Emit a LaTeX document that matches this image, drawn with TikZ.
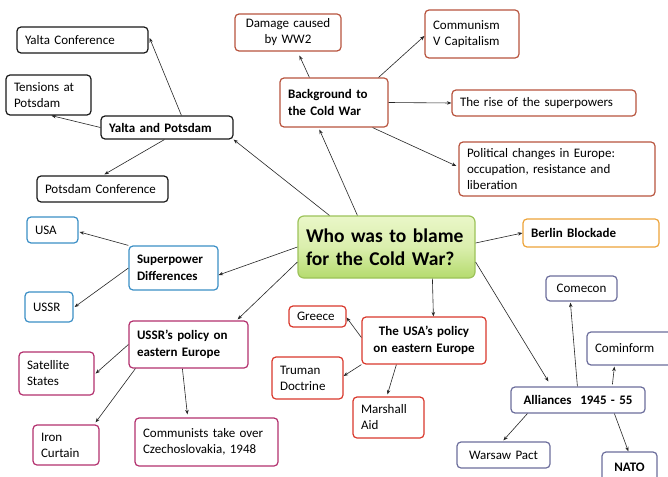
\documentclass[tikz,border=0pt]{standalone}
\usepackage{fontspec}
\setmainfont{Carlito}
\usetikzlibrary{arrows.meta}
\definecolor{cblack}{HTML}{1A1A1A}
\definecolor{cbrown}{HTML}{B8543E}
\definecolor{cblue}{HTML}{3B8FC6}
\definecolor{cmag}{HTML}{B3306E}
\definecolor{cred}{HTML}{D9382C}
\definecolor{corange}{HTML}{EDA43A}
\definecolor{cslate}{HTML}{6C6E9C}
\definecolor{cgreen}{HTML}{9DC35A}
\definecolor{gtop}{HTML}{EAF7C8}
\definecolor{gbot}{HTML}{B5DB6E}
\tikzset{
  box/.style={draw, rounded corners=4pt, line width=1.2pt, inner xsep=8pt, inner ysep=2pt,
    font=\fontsize{13}{16}\selectfont, align=left, text=black},
  bbox/.style={box, font=\fontsize{13}{16.5}\selectfont\bfseries},
  kblack/.style={draw=cblack},
  kbrown/.style={draw=cbrown},
  kblue/.style={draw=cblue},
  kmag/.style={draw=cmag},
  kred/.style={draw=cred},
  korange/.style={draw=corange},
  kslate/.style={draw=cslate},
  central/.style={box, draw=cgreen, top color=gtop, bottom color=gbot, middle color=gtop!70!gbot,
    font=\fontsize{19.5}{22.5}\selectfont\bfseries, rounded corners=6pt},
  conn/.style={-{Stealth[length=4.5pt,width=3.5pt]}, line width=0.6pt, draw=black!85}
}
\newcommand\mybox[7]{%
  \pgfmathsetmacro\bw{#4-#2}%
  \pgfmathsetmacro\bh{#5-#3}%
  \pgfmathsetmacro\tw{#4-#2-16}%
  \pgfmathsetmacro\cx{(#2+#4)/2}%
  \pgfmathsetmacro\cy{(#3+#5)/2}%
  \node[#6, minimum width=\bw pt, minimum height=\bh pt, text width=\tw pt] (#1) at (\cx,\cy) {#7};%
}
\begin{document}
\begin{tikzpicture}[x=1pt,y=-1pt]
\useasboundingbox[fill=white] (0,0) rectangle (668,476);
% Yalta group
\mybox{YC}{17}{27}{148}{53}{box,kblack}{Yalta Conference}
\mybox{TP}{6}{75}{91}{115}{box,kblack}{Tensions at\\Potsdam}
\mybox{YP}{101}{116}{233}{139}{bbox,kblack}{Yalta and Potsdam}
\mybox{PD}{37}{176}{168}{202}{box,kblack}{Potsdam Conference}
% Background group
\mybox{DM}{235}{14}{341}{51}{box,kbrown,align=center}{Damage caused\\by WW2}
\mybox{CM}{425}{10}{519}{58}{box,kbrown}{Communism\\V Capitalism}
\mybox{BG}{280}{78}{388}{127}{bbox,kbrown}{Background to\\the Cold War}
\mybox{RS}{452}{90}{636}{116}{box,kbrown}{The rise of the superpowers}
\mybox{PC}{459}{142}{655}{196}{box,kbrown}{Political changes in Europe:\\occupation, resistance and\\liberation}
% central
\mybox{CT0}{298}{216}{475}{278}{central}{Who was to blame\\for the Cold War?}
\mybox{BB}{523}{219}{659}{247}{bbox,korange}{Berlin Blockade}
% superpower
\mybox{USA}{27}{217}{78}{243}{box,kblue}{USA}
\mybox{SD}{129}{246}{218}{290}{bbox,kblue}{Superpower\\Differences}
\mybox{USSR}{25}{292}{73}{322}{box,kblue}{USSR}
% USSR policy
\mybox{UP}{129}{321}{248}{368}{bbox,kmag}{USSR’s policy on\\eastern Europe}
\mybox{SS}{19}{352}{94}{395}{box,kmag}{Satellite\\States}
\mybox{IC}{33}{425}{99}{465}{box,kmag}{Iron\\Curtain}
\mybox{CZ}{135}{418}{278}{466}{box,kmag}{Communists take over\\Czechoslovakia, 1948}
% USA policy
\mybox{GR}{289}{306}{346}{327}{box,kred}{Greece}
\mybox{UA}{362}{317}{486}{364}{bbox,kred,align=center}{The USA’s policy\\on eastern Europe}
\mybox{TD}{272}{357}{343}{399}{box,kred}{Truman\\Doctrine}
\mybox{MA}{353}{397}{424}{438}{box,kred}{Marshall\\Aid}
% alliances
\mybox{CC}{546}{276}{617}{301}{box,kslate,align=center}{Comecon}
\mybox{CF}{587}{332}{672}{365}{box,kslate}{Cominform}
\mybox{AL}{511}{387}{645}{413}{bbox,kslate,align=center}{Alliances \ 1945 - 55}
\mybox{WP}{457}{442}{550}{468}{box,kslate,align=center}{Warsaw Pact}
\mybox{NA}{602}{452}{657}{482}{bbox,kslate,align=center}{NATO}

% connectors from central
\draw[conn] ([xshift=32pt]CT0.north west) -- (YP.south east);
\draw[conn] ([xshift=60pt]CT0.north west) -- ([xshift=40pt,yshift=-2pt]BG.south west);
\draw[conn] (CT0.west) -- ([yshift=-7pt]SD.east);
\draw[conn] ([yshift=-15pt]CT0.west) -- ([xshift=-11pt,yshift=1pt]UP.north east);
\draw[conn] ([xshift=135pt]CT0.south west) -- ([xshift=72pt]UA.north west);
\draw[conn] ([yshift=4pt]CT0.east) -- (BB.west);
\draw[conn] ([yshift=-15pt]CT0.east) -- ([xshift=38pt,yshift=5pt]AL.north west);
% background
\draw[conn] ([xshift=30pt]BG.north west) -- ([xshift=65pt,yshift=-4pt]DM.south west);
\draw[conn] ([xshift=-10pt]BG.north east) -- ([yshift=-2pt]CM.west);
\draw[conn] (BG.east) -- (RS.west);
\draw[conn] ([xshift=-16pt]BG.south east) -- ([xshift=-2pt,yshift=3pt]PC.west);
% yalta
\draw[conn] ([xshift=81pt]YP.north west) -- ([xshift=1pt,yshift=2pt]YC.east);
\draw[conn] (YP.west) -- ([xshift=46pt]TP.south west);
\draw[conn] ([xshift=64pt]YP.south west) -- ([xshift=68pt,yshift=1pt]PD.north west);
% superpower
\draw[conn] (SD.north west) -- ([xshift=1pt,yshift=-2pt]USA.east);
\draw[conn] (SD.west) -- ([xshift=1pt]USSR.east);
% USSR policy
\draw[conn] (UP.west) -- ([xshift=1pt]SS.east);
\draw[conn] ([xshift=7pt]UP.south west) -- ([xshift=-4pt,yshift=2pt]IC.north east);
\draw[conn] ([xshift=54pt]UP.south west) -- ([xshift=53pt,yshift=3pt]CZ.north west);
% USA policy
\draw[conn] ([yshift=3pt]UA.west) -- ([yshift=-1pt]GR.east);
\draw[conn] (UA.south west) -- ([yshift=2pt]TD.east);
\draw[conn] ([xshift=35pt]UA.south west) -- ([xshift=35pt,yshift=2pt]MA.north west);
% alliances
\draw[conn] ([xshift=67pt]AL.north west) -- ([xshift=25pt,yshift=-1pt]CC.south west);
\draw[conn] ([xshift=102pt,yshift=2pt]AL.north west) -- ([xshift=28pt,yshift=-1pt]CF.south west);
\draw[conn] ([xshift=17pt]AL.south west) -- ([xshift=47pt,yshift=1pt]WP.north west);
\draw[conn] ([xshift=104pt]AL.south west) -- ([xshift=27pt]NA.north west);
\end{tikzpicture}
\end{document}
